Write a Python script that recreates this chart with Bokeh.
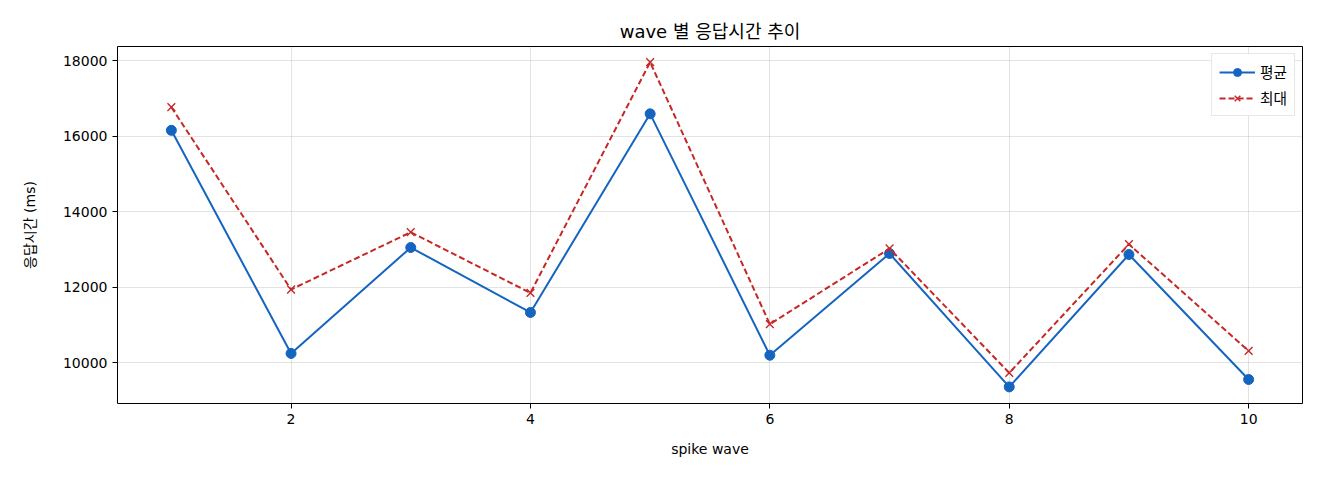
from bokeh.plotting import figure
from bokeh.embed import file_html
from bokeh.resources import INLINE
from bokeh.models import ColumnDataSource, Legend, FixedTicker, Range1d

# 데이터
waves = [1, 2, 3, 4, 5, 6, 7, 8, 9, 10]
avg_ms = [16150, 10240, 13046, 11325, 16587, 10193, 12887, 9354, 12861, 9550]
max_ms = [16763, 11934, 13451, 11843, 17955, 11015, 13020, 9725, 13134, 10307]
x_ticks = [2, 4, 6, 8, 10]
y_ticks = [10000, 12000, 14000, 16000, 18000]

FONT = "DejaVu Sans, Noto Sans CJK KR"
BLUE = "#1565c0"
RED = "#c62828"

source = ColumnDataSource(dict(wave=waves, avg=avg_ms, mx=max_ms))

p = figure(width=1312, height=472, output_backend="svg", toolbar_location=None,
           title="wave 별 응답시간 추이", x_axis_label="spike wave", y_axis_label="응답시간 (ms)",
           x_range=Range1d(0.55, 10.45), y_range=Range1d(8914, 18371),
           min_border_left=117, min_border_right=10, min_border_top=46, min_border_bottom=69)

p.title.align = "center"
p.title.text_font = FONT
p.title.text_font_size = "13.5pt"
p.title.text_font_style = "normal"
p.title.text_color = "black"

p.outline_line_color = "black"
p.outline_line_width = 1
p.outline_line_alpha = 1

for ax in (p.xaxis, p.yaxis):
    ax.axis_label_text_font = FONT
    ax.axis_label_text_font_size = "10.5pt"
    ax.axis_label_text_font_style = "normal"
    ax.axis_label_text_color = "black"
    ax.major_label_text_font = FONT
    ax.major_label_text_font_size = "10.5pt"
    ax.major_label_text_color = "black"
    ax.minor_tick_line_color = None
    ax.major_tick_out = 5
    ax.major_tick_in = 0
    ax.axis_line_color = None
    ax.major_tick_line_color = "black"

p.xaxis.axis_label_standoff = 14
p.yaxis.axis_label_standoff = 22
p.xaxis.ticker = FixedTicker(ticks=x_ticks)
p.yaxis.ticker = FixedTicker(ticks=y_ticks)

p.grid.grid_line_color = "#b0b0b0"
p.grid.grid_line_alpha = 0.35

avg_line = p.line("wave", "avg", source=source, color=BLUE, line_width=2)
avg_pts = p.scatter("wave", "avg", source=source, marker="circle", size=10, color=BLUE)
max_line = p.line("wave", "mx", source=source, color=RED, line_width=2, line_dash="6 3")
max_pts = p.scatter("wave", "mx", source=source, marker="x", size=11, line_color=RED, line_width=1.4)

legend = Legend(items=[("평균", [avg_line, avg_pts]), ("최대", [max_line, max_pts])],
                location="top_right")
legend.label_text_font = FONT
legend.label_text_font_size = "11pt"
legend.label_text_color = "black"
legend.border_line_color = "#d0d0d0"
legend.glyph_width = 36
legend.spacing = 5
legend.margin = 7
legend.padding = 7
p.add_layout(legend)

open("out.html", "w").write(file_html(p, INLINE))
